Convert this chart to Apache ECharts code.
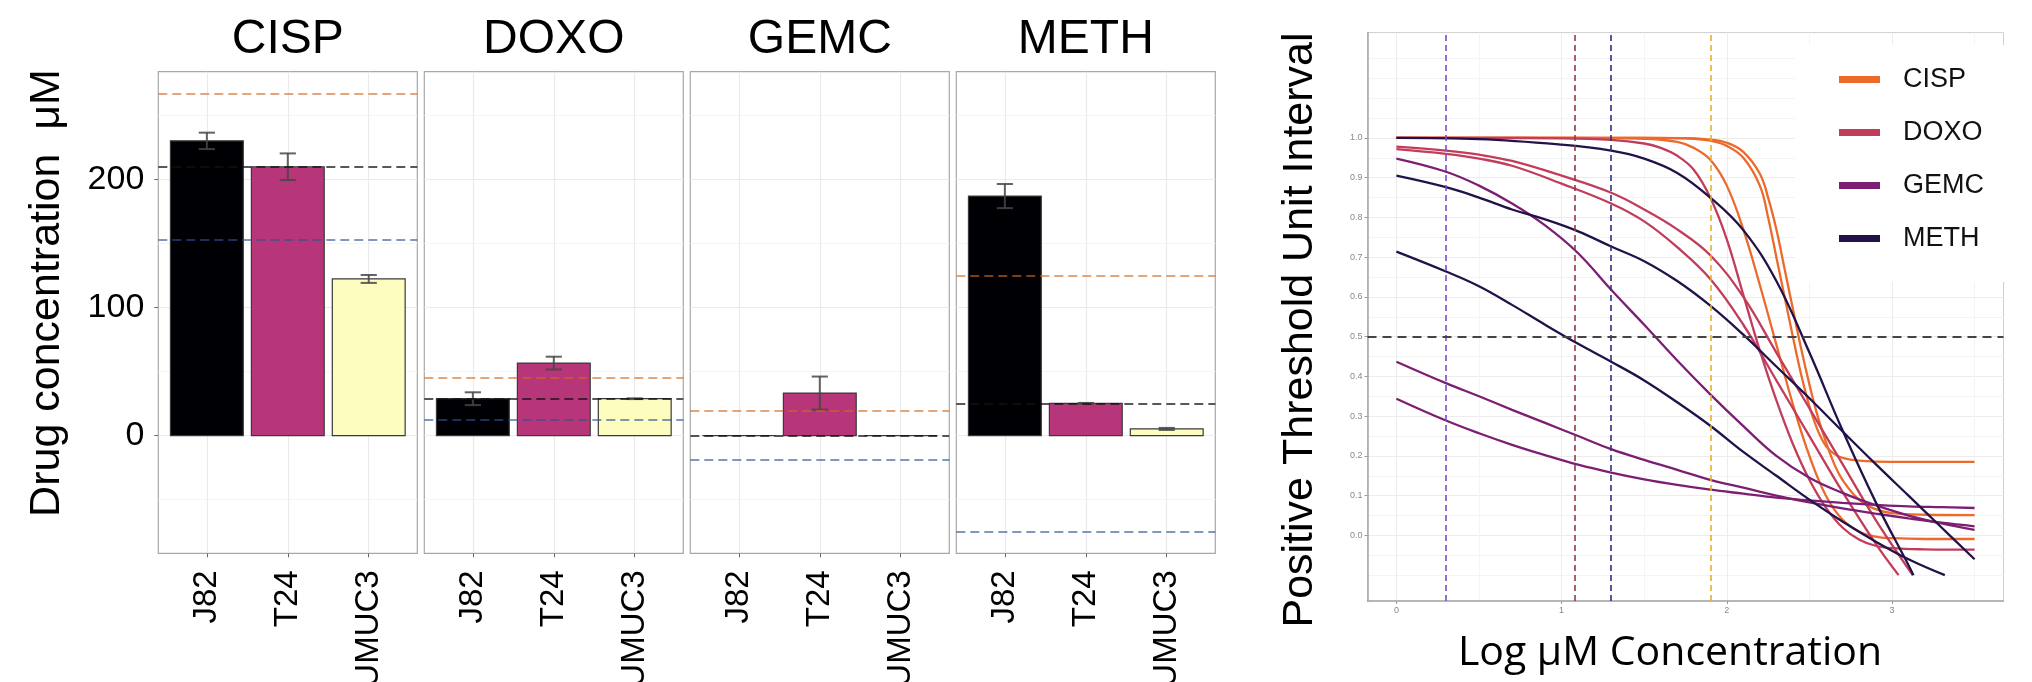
<!DOCTYPE html>
<html>
<head>
<meta charset="utf-8">
<script src="https://cdn.jsdelivr.net/npm/echarts@6/dist/echarts.min.js"></script>
<style>
  html, body { margin: 0; padding: 0; background: #ffffff; }
  #chart { width: 2032px; height: 682px; }
</style>
</head>
<body>
<div id="chart"></div>
<script>
// ---- Bar panels: drug concentration (µM) per cell line ----
const drugs = ['CISP', 'DOXO', 'GEMC', 'METH'];
const cellLines = ['J82', 'T24', 'UMUC3'];
const cellColors = ['#000004', '#B63679', '#FCFDBF'];

const cispMeans = [230.1, 209.9, 122.3];
const cispErrors = [6.4, 10.4, 3.1];
const doxoMeans = [28.8, 56.6, 28.8];
const doxoErrors = [5.0, 5.0, 0.3];
const gemcMeans = [0, 33.2, 0];
const gemcErrors = [0, 12.9, 0];
const methMeans = [187.0, 25.2, 5.2];
const methErrors = [9.4, 0.3, 0.8];

// reference lines per drug (CISP, DOXO, GEMC, METH)
const upperLine = [267.0, 44.9, 19.2, 124.7];
const medianLine = [209.9, 28.8, 0, 25.2];
const lowerLine = [152.7, 12.7, -19.2, -74.8];

const concTicks = [0, 100, 200];
const concMinorTicks = [-50, 50, 150, 250];

// ---- Dose-response panel ----
const logTicks = [0, 1, 2, 3];
const logMinorTicks = [0.5, 1.5, 2.5, 3.5];
const fractionTicks = [0, 0.1, 0.2, 0.3, 0.4, 0.5, 0.6, 0.7, 0.8, 0.9, 1.0];
const fractionMinorTicks = [-0.1, -0.05, 0.05, 0.15, 0.25, 0.35, 0.45, 0.55, 0.65, 0.75, 0.85, 0.95, 1.05, 1.1, 1.15, 1.2];
const logRange = [0, 3.5];
const fractionRange = [-0.1, 1.2];
const threshold = 0.5;

const drugColors = ['#EB6A2C', '#C23D5C', '#7C1F73', '#231249'];
// per-drug cutoff on the log µM axis (CISP, DOXO, GEMC, METH)
const cutoffLog = [1.90, 1.08, 0.30, 1.30];
const cutoffColors = ['#E8B02A', '#8E3B46', '#7C4DCC', '#2F2F7F'];

const cispCurves = [
  [[0,1],[0.5,1],[1,1],[1.5,1],[1.8,0.998],[1.9,0.993],[2.0,0.98],[2.1,0.95],[2.2,0.88],[2.25,0.8],[2.3,0.7],[2.35,0.6],[2.4,0.5],[2.45,0.405],[2.5,0.325],[2.55,0.265],[2.6,0.225],[2.65,0.205],[2.7,0.195],[2.8,0.188],[3.0,0.185],[3.5,0.185]],
  [[0,1],[0.5,1],[1,1],[1.5,1],[1.8,0.999],[1.9,0.996],[2.0,0.988],[2.1,0.965],[2.2,0.91],[2.25,0.85],[2.3,0.77],[2.35,0.67],[2.4,0.57],[2.45,0.47],[2.5,0.38],[2.55,0.3],[2.6,0.235],[2.65,0.18],[2.7,0.14],[2.8,0.09],[2.9,0.066],[3.0,0.056],[3.2,0.052],[3.5,0.051]],
  [[0,1],[0.5,1],[1,1],[1.5,0.998],[1.7,0.99],[1.8,0.975],[1.9,0.945],[2.0,0.88],[2.1,0.77],[2.2,0.63],[2.3,0.48],[2.4,0.33],[2.5,0.2],[2.6,0.1],[2.7,0.04],[2.8,0.01],[2.9,-0.003],[3.0,-0.007],[3.2,-0.009],[3.5,-0.009]]
];
const doxoCurves = [
  [[0,1],[0.5,1],[1,0.999],[1.3,0.995],[1.5,0.986],[1.6,0.975],[1.7,0.955],[1.8,0.92],[1.9,0.85],[2.0,0.745],[2.1,0.605],[2.2,0.465],[2.3,0.34],[2.4,0.23],[2.5,0.14],[2.6,0.07],[2.7,0.02],[2.8,-0.01],[2.9,-0.026],[3.0,-0.032],[3.2,-0.035],[3.5,-0.036]],
  [[0,0.978],[0.3,0.968],[0.5,0.958],[0.7,0.942],[1.0,0.905],[1.3,0.862],[1.5,0.82],[1.7,0.77],[1.9,0.705],[2.1,0.6],[2.3,0.46],[2.5,0.32],[2.7,0.18],[2.9,0.04],[3.1,-0.085],[3.125,-0.1]],
  [[0,0.972],[0.3,0.96],[0.5,0.948],[0.7,0.93],[1.0,0.885],[1.3,0.835],[1.5,0.79],[1.7,0.725],[1.9,0.645],[2.1,0.53],[2.3,0.39],[2.5,0.25],[2.7,0.11],[2.9,-0.02],[3.04,-0.1]]
];
const gemcCurves = [
  [[0,0.948],[0.3,0.915],[0.5,0.88],[0.7,0.835],[0.9,0.78],[1.1,0.71],[1.3,0.618],[1.5,0.53],[1.7,0.44],[1.9,0.355],[2.1,0.275],[2.3,0.2],[2.5,0.145],[2.7,0.107],[2.9,0.076],[3.1,0.05],[3.3,0.03],[3.5,0.014]],
  [[0,0.437],[0.3,0.383],[0.5,0.35],[0.7,0.316],[0.9,0.283],[1.1,0.25],[1.3,0.217],[1.5,0.19],[1.7,0.165],[1.9,0.14],[2.1,0.12],[2.3,0.1],[2.5,0.083],[2.7,0.068],[2.9,0.055],[3.1,0.043],[3.3,0.032],[3.5,0.023]],
  [[0,0.344],[0.3,0.289],[0.5,0.257],[0.7,0.228],[0.9,0.202],[1.1,0.178],[1.3,0.158],[1.5,0.141],[1.7,0.127],[1.9,0.115],[2.1,0.105],[2.3,0.095],[2.5,0.088],[2.7,0.082],[2.9,0.077],[3.1,0.073],[3.3,0.071],[3.5,0.069]]
];
const methCurves = [
  [[0,1],[0.5,0.997],[1.0,0.983],[1.3,0.968],[1.5,0.948],[1.7,0.912],[1.9,0.85],[2.1,0.768],[2.3,0.64],[2.5,0.46],[2.7,0.265],[2.9,0.085],[3.1,-0.075],[3.13,-0.1]],
  [[0,0.905],[0.3,0.876],[0.5,0.85],[0.7,0.82],[0.9,0.795],[1.1,0.765],[1.3,0.727],[1.5,0.69],[1.7,0.64],[1.9,0.578],[2.1,0.505],[2.3,0.425],[2.5,0.345],[2.7,0.262],[2.9,0.18],[3.1,0.1],[3.3,0.02],[3.5,-0.06]],
  [[0,0.714],[0.3,0.664],[0.5,0.627],[0.7,0.58],[0.9,0.53],[1.1,0.482],[1.3,0.437],[1.5,0.39],[1.7,0.335],[1.9,0.276],[2.1,0.21],[2.3,0.15],[2.5,0.09],[2.7,0.035],[2.9,-0.015],[3.1,-0.06],[3.32,-0.1]]
];

// ---- layout ----
const FONT = 'Liberation Sans';
const panelLeft = [158.3, 424.3, 690.3, 956.3];
const panelWidth = 259;
const panelTop = 71.7;
const panelHeight = 481.6;
const curveGrid = { left: 1367.5, top: 32.6, width: 636, height: 568.4 };

function expand(lo, hi, frac) {
  const pad = (hi - lo) * frac;
  return [lo - pad, hi + pad];
}
const concRange = expand(Math.min(...lowerLine), Math.max(...upperLine), 0.05);
const catRange = [1 - 0.6, cellLines.length + 0.6];
const logAxisRange = expand(logRange[0], logRange[1], 0.05);
const fracAxisRange = expand(fractionRange[0], fractionRange[1], 0.05);

const barMeans = [cispMeans, doxoMeans, gemcMeans, methMeans];
const barErrors = [cispErrors, doxoErrors, gemcErrors, methErrors];
const curveSets = [cispCurves, doxoCurves, gemcCurves, methCurves];

function renderBar(params, api) {
  const pos = api.value(0);
  const mean = api.value(1);
  const err = api.value(2);
  const idx = api.value(3);
  const base = api.coord([pos, 0]);
  const top = api.coord([pos, mean]);
  const w = api.size([0.9, 0])[0];
  const cap = api.size([0.2, 0])[0];
  const children = [{
    type: 'rect',
    shape: { x: base[0] - w / 2, y: Math.min(base[1], top[1]), width: w, height: Math.abs(base[1] - top[1]) },
    style: { fill: cellColors[idx], stroke: '#3a3a3a', lineWidth: 1.2 }
  }];
  if (err > 0) {
    const hi = api.coord([pos, mean + err]);
    const lo = api.coord([pos, mean - err]);
    const es = { stroke: 'rgba(70,70,70,0.85)', lineWidth: 2 };
    children.push({ type: 'line', shape: { x1: hi[0], y1: hi[1], x2: lo[0], y2: lo[1] }, style: es });
    children.push({ type: 'line', shape: { x1: hi[0] - cap / 2, y1: hi[1], x2: hi[0] + cap / 2, y2: hi[1] }, style: es });
    children.push({ type: 'line', shape: { x1: lo[0] - cap / 2, y1: lo[1], x2: lo[0] + cap / 2, y2: lo[1] }, style: es });
  }
  return { type: 'group', children };
}

const grids = [], xAxes = [], yAxes = [], series = [], graphics = [];

drugs.forEach((drug, i) => {
  grids.push({
    left: panelLeft[i], top: panelTop, width: panelWidth, height: panelHeight,
    show: true, borderColor: '#A8A8A8', borderWidth: 1.2, backgroundColor: '#ffffff',
    containLabel: false, outerBoundsMode: 'none'
  });
  const xi = xAxes.length;
  xAxes.push({
    type: 'value', gridIndex: i, min: catRange[0], max: catRange[1],
    axisLine: { show: false, onZero: false },
    axisTick: { show: true, customValues: [1, 2, 3], length: 4, lineStyle: { color: '#666', width: 1 } },
    axisLabel: {
      customValues: [1, 2, 3], formatter: v => cellLines[Math.round(v) - 1],
      rotate: 90, fontSize: 33, color: '#000', margin: 17, fontFamily: FONT
    },
    splitLine: { show: true, lineStyle: { color: '#EBEBEB', width: 1.2 } }
  });
  const yi = yAxes.length;
  yAxes.push({
    type: 'value', gridIndex: i, min: concRange[0], max: concRange[1],
    axisLine: { show: false, onZero: false },
    axisTick: { show: i === 0, customValues: concTicks, length: 4, lineStyle: { color: '#666' } },
    axisLabel: { show: i === 0, customValues: concTicks, fontSize: 34, color: '#000', margin: 14, fontFamily: FONT },
    splitLine: { show: true, lineStyle: { color: '#EBEBEB', width: 1.2 } }
  });
  yAxes.push({
    type: 'value', gridIndex: i, min: concRange[0], max: concRange[1],
    axisLine: { show: false, onZero: false },
    axisTick: { show: false, customValues: concMinorTicks },
    axisLabel: { show: false, customValues: concMinorTicks },
    splitLine: { show: true, lineStyle: { color: '#F5F5F5', width: 1 } }
  });
  series.push({
    type: 'custom', name: drug + ' bars', xAxisIndex: xi, yAxisIndex: yi,
    renderItem: renderBar, clip: false,
    data: cellLines.map((c, j) => [j + 1, barMeans[i][j], barErrors[i][j], j]),
    markLine: {
      silent: true, symbol: ['none', 'none'], label: { show: false },
      data: [
        { yAxis: upperLine[i], lineStyle: { color: '#D2691E', opacity: 0.6, type: [9, 5], width: 1.8 } },
        { yAxis: medianLine[i], lineStyle: { color: '#111111', opacity: 0.7, type: [9, 5], width: 1.8 } },
        { yAxis: lowerLine[i], lineStyle: { color: '#2D5291', opacity: 0.6, type: [9, 5], width: 1.8 } }
      ]
    }
  });
  graphics.push({
    type: 'text', x: panelLeft[i] + panelWidth / 2, y: 40,
    style: { text: drug, fontSize: 48, fontFamily: FONT, fill: '#000', align: 'center', verticalAlign: 'middle' }
  });
});

// dose-response grid
const cg = grids.length;
grids.push(Object.assign({
  show: true, borderColor: '#CFCFCF', borderWidth: 1, backgroundColor: '#ffffff',
  containLabel: false, outerBoundsMode: 'none'
}, curveGrid));
const cx = xAxes.length;
xAxes.push({
  type: 'value', gridIndex: cg, min: logAxisRange[0], max: logAxisRange[1],
  axisLine: { show: true, onZero: false, lineStyle: { color: '#A6A6A6', width: 1.5 } },
  axisTick: { show: true, customValues: logTicks, length: 3, lineStyle: { color: '#999' } },
  axisLabel: { customValues: logTicks, fontSize: 9, color: '#888', margin: 5, fontFamily: FONT },
  splitLine: { show: true, lineStyle: { color: '#ECECEC', width: 1 } }
});
xAxes.push({
  type: 'value', gridIndex: cg, min: logAxisRange[0], max: logAxisRange[1], position: 'top',
  axisLine: { show: false, onZero: false },
  axisTick: { show: false, customValues: logMinorTicks },
  axisLabel: { show: false, customValues: logMinorTicks },
  splitLine: { show: true, lineStyle: { color: '#F4F4F4', width: 1 } }
});
const cy = yAxes.length;
yAxes.push({
  type: 'value', gridIndex: cg, min: fracAxisRange[0], max: fracAxisRange[1],
  axisLine: { show: true, onZero: false, lineStyle: { color: '#A6A6A6', width: 1.5 } },
  axisTick: { show: true, customValues: fractionTicks, length: 3, lineStyle: { color: '#999' } },
  axisLabel: { customValues: fractionTicks, formatter: v => v.toFixed(1), fontSize: 9, color: '#888', margin: 5, fontFamily: FONT },
  splitLine: { show: true, lineStyle: { color: '#ECECEC', width: 1 } }
});
yAxes.push({
  type: 'value', gridIndex: cg, min: fracAxisRange[0], max: fracAxisRange[1], position: 'right',
  axisLine: { show: false, onZero: false },
  axisTick: { show: false, customValues: fractionMinorTicks },
  axisLabel: { show: false, customValues: fractionMinorTicks },
  splitLine: { show: true, lineStyle: { color: '#F4F4F4', width: 1 } }
});

curveSets.forEach((set, d) => {
  set.forEach(points => {
    series.push({
      type: 'line', name: drugs[d], xAxisIndex: cx, yAxisIndex: cy,
      data: points, showSymbol: false, symbol: 'none', smooth: 0.4,
      color: drugColors[d],
      lineStyle: { color: drugColors[d], width: 2.3 },
      emphasis: { disabled: true }, z: 3
    });
  });
});

// cutoff markers and the 0.5 threshold
series.push({
  type: 'line', name: 'cutoffs', xAxisIndex: cx, yAxisIndex: cy, data: [],
  markLine: {
    silent: true, symbol: ['none', 'none'], label: { show: false },
    data: cutoffLog.map((v, d) => ({ xAxis: v, lineStyle: { color: cutoffColors[d], type: [6, 4], width: 1.6 } }))
      .concat([{ yAxis: threshold, lineStyle: { color: '#444444', type: [9, 6], width: 2 } }])
  }
});

graphics.push({
  type: 'text', x: 47, y: 293, rotation: Math.PI / 2,
  style: { text: 'Drug concentration  μM', fontSize: 43, fontFamily: FONT, fill: '#000', align: 'center', verticalAlign: 'middle' }
});
graphics.push({
  type: 'text', x: 1300, y: 330, rotation: Math.PI / 2,
  style: { text: 'Positive Threshold Unit Interval', fontSize: 43, fontFamily: FONT, fill: '#000', align: 'center', verticalAlign: 'middle' }
});
graphics.push({
  type: 'text', x: 1670, y: 653,
  style: { text: 'Log μM Concentration', fontSize: 41, fontFamily: 'Open Sans', fill: '#000', align: 'center', verticalAlign: 'middle' }
});

const chart = echarts.init(document.getElementById('chart'), null, { renderer: 'canvas' });
chart.setOption({
  animation: false,
  backgroundColor: '#ffffff',
  textStyle: { fontFamily: FONT },
  grid: grids,
  xAxis: xAxes,
  yAxis: yAxes,
  legend: {
    data: drugs, orient: 'vertical', left: 1795, top: 45,
    backgroundColor: '#ffffff', padding: [21, 20, 30, 44],
    icon: 'rect', itemWidth: 41, itemHeight: 7, itemGap: 26,
    textStyle: { fontSize: 27, lineHeight: 27, color: '#111', fontFamily: FONT, padding: [0, 0, 0, 18] },
    selectedMode: false
  },
  series: series,
  graphic: graphics
});
</script>
</body>
</html>
